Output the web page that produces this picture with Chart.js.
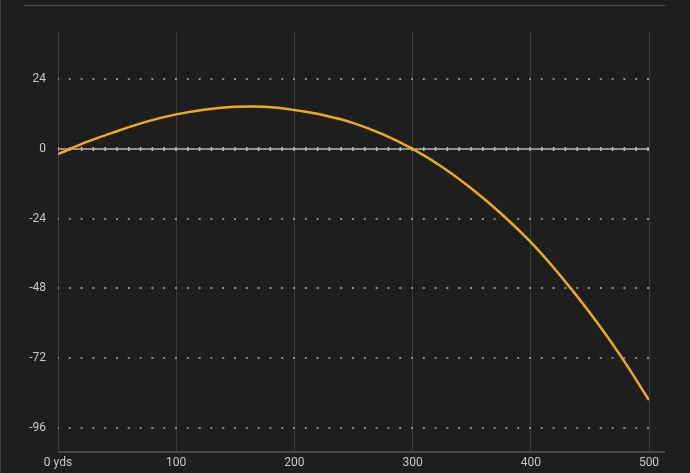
<!DOCTYPE html>
<html>
<head>
<meta charset="utf-8">
<script src="https://cdn.jsdelivr.net/npm/chart.js@4"></script>
<style>
body{margin:0;background:#1e1e1e;}
#wrap{width:690px;height:473px;position:relative;}
</style>
</head>
<body>
<div id="wrap"><canvas id="mychart"></canvas></div>
<script>
// range in yards, bullet path in inches
var yards=[0,25,50,75,100,125,150,175,200,225,250,275,300,325,350,375,400,425,450,475,500]
var inches=[-1.8,2.5,6.1,9.4,11.9,13.6,14.5,14.5,13.4,11.6,8.9,5.0,0,-6.2,-13.7,-22.3,-32.1,-43.6,-56.4,-70.6,-86.4]
var yTicks=[24,0,-24,-48,-72,-96]
var xTicks=[0,100,200,300,400,500]

var points=[]
for(var i=0;i<yards.length;i++){
  points.push({x:yards[i],y:inches[i]})
}

// frame lines + solid zero line
var extras={
  id:'extras',
  beforeDatasetsDraw:function(chart){
    var ctx=chart.ctx, a=chart.chartArea
    var y0=chart.scales.y.getPixelForValue(0)
    ctx.save()
    ctx.strokeStyle='#8e8e8e'
    ctx.lineWidth=2
    ctx.beginPath()
    ctx.moveTo(a.left,y0)
    ctx.lineTo(a.right,y0)
    ctx.stroke()
    ctx.strokeStyle='#bdbdbd'
    ctx.lineWidth=4
    ctx.setLineDash([1.5,10.3])
    ctx.lineDashOffset=0.75
    ctx.beginPath()
    ctx.moveTo(a.left,y0)
    ctx.lineTo(a.right+1,y0)
    ctx.stroke()
    ctx.restore()
  },
  afterDraw:function(chart){
    var ctx=chart.ctx, a=chart.chartArea
    ctx.save()
    ctx.strokeStyle='#484848'
    ctx.lineWidth=2
    ctx.beginPath()
    ctx.moveTo(a.left,a.bottom)
    ctx.lineTo(a.right+16,a.bottom)
    ctx.stroke()
    ctx.lineWidth=1.5
    ctx.strokeStyle='#4a4a4a'
    ctx.beginPath()
    ctx.moveTo(24,5.5)
    ctx.lineTo(a.right+16,5.5)
    ctx.stroke()
    ctx.strokeStyle='#3e3e3e'
    ctx.lineWidth=1
    ctx.beginPath()
    ctx.moveTo(0.5,0)
    ctx.lineTo(0.5,chart.height)
    ctx.stroke()
    ctx.restore()
  }
}

Chart.defaults.font.family='Roboto'
Chart.defaults.font.size=12
Chart.defaults.color='#c8c8c8'

var mychart=document.getElementById('mychart').getContext('2d')
var chart=new Chart(mychart,{
  type:'line',
  data:{
    datasets:[
    {
      label:'Trajectory',
      data:points,
      borderColor:'#ebab21',
      borderWidth:2.5,
      pointRadius:0,
      tension:0.4,
      fill:false
    }
    ]
  },
  options:{
    responsive:true,
    maintainAspectRatio:false,
    animation:false,
    layout:{padding:{top:31,right:41,left:0,bottom:0}},
    plugins:{legend:{display:false},tooltip:{enabled:false}},
    scales:{
      x:{
        type:'linear',
        min:0,
        max:500,
        afterBuildTicks:function(s){ s.ticks=xTicks.map(function(v){return {value:v}}) },
        afterFit:function(s){ s.height=21 },
        grid:{color:'#3c3c3c',lineWidth:1,drawTicks:false},
        border:{display:false},
        ticks:{
          padding:4,
          maxRotation:0,
          callback:function(v){ return v===0 ? '0 yds' : v }
        }
      },
      y:{
        min:-104.3,
        max:40.6,
        afterBuildTicks:function(s){ s.ticks=yTicks.map(function(v){return {value:v}}) },
        afterFit:function(s){ s.width=58 },
        grid:{color:'#8a8a8a',lineWidth:2,drawTicks:false},
        border:{display:false,dash:[2,9.8],dashOffset:1},
        ticks:{padding:12}
      }
    }
  },
  plugins:[extras]
})
</script>
</body>
</html>
